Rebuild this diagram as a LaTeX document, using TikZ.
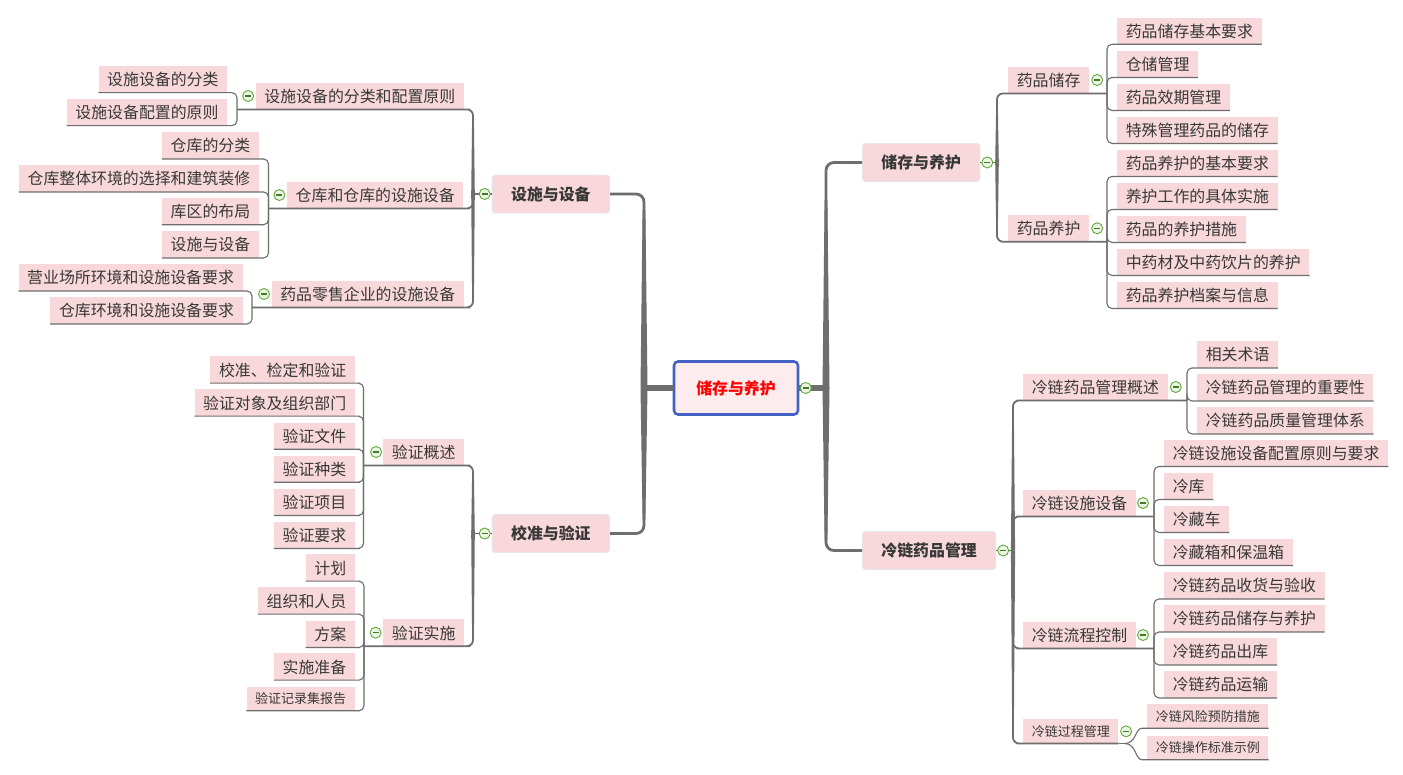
\documentclass[tikz,border=0pt]{standalone}
\usepackage{fontspec}
\setmainfont{Noto Sans CJK SC}
\usetikzlibrary{calc}
\definecolor{leafpink}{HTML}{F8D8DA}
\definecolor{cenfill}{HTML}{FDECEE}
\definecolor{cenblue}{HTML}{4462C4}
\definecolor{txt}{HTML}{383838}
\definecolor{linec}{HTML}{6E6E6E}
\definecolor{cgreen}{HTML}{62A83C}
\definecolor{cfill}{HTML}{EAF6E2}
\definecolor{lborder}{HTML}{E4E6EE}
\newcommand\taperv[5]{\fill[linec] ({#1-#3/2},#2) -- ({#1-#5/2},#4) -- ({#1+#5/2},#4) -- ({#1+#3/2},#2) -- cycle;}
\tikzset{
 base/.style={text=txt, inner ysep=0pt},
 leaf/.style={base, fill=leafpink, font=\fontsize{15.9}{16}\selectfont, inner xsep=8.6pt, minimum height=26.5pt, text height=13.8pt, text depth=1pt},
 small/.style={base, fill=leafpink, font=\fontsize{13}{13}\selectfont, inner xsep=8.6pt, minimum height=24pt, text height=11.3pt, text depth=0.8pt},
 topic/.style={base, fill=leafpink, draw=lborder, line width=0.8pt, rounded corners=3pt, font=\bfseries\fontsize{15.9}{16}\selectfont, inner xsep=19pt, minimum height=38pt, text height=13.8pt, text depth=1pt},
 central/.style={base, fill=cenfill, draw=cenblue, line width=2.6pt, rounded corners=4pt, text=red, font=\bfseries\fontsize{15.9}{16}\selectfont, minimum width=124pt, minimum height=53pt, text height=13.8pt, text depth=1pt},
 leafline/.style={draw=linec, line width=1.1pt, rounded corners=5pt},
 subline/.style={draw=linec, line width=1.8pt, rounded corners=6pt},
 mainline/.style={draw=linec, line width=2.8pt, rounded corners=8pt},
 collapse/.style={circle, draw=cgreen, fill=cfill, line width=0.9pt, minimum size=11pt, inner sep=0pt,
   path picture={\draw[cgreen!70!black, line width=1.1pt] ([xshift=-3pt]path picture bounding box.center) -- ([xshift=3pt]path picture bounding box.center);}},
}
\begin{document}
\begin{tikzpicture}[x=1pt,y=-1pt]
\useasboundingbox[fill=white] (0,0) rectangle (1403,774);
% ---------- nodes ----------
\node[central] (C) at (736,388) {储存与养护};
\node[topic, anchor=west] (R1) at (862,162.5) {储存与养护};
\node[topic, anchor=west] (R2) at (862,550.5) {冷链药品管理};
\node[topic, anchor=east] (L1) at (610,194) {设施与设备};
\node[topic, anchor=east] (L2) at (610,533.5) {校准与验证};
% right, R1
\node[leaf, anchor=west] (a1) at (1008,80) {药品储存};
\node[leaf, anchor=west] (a11) at (1117,30.8) {药品储存基本要求};
\node[leaf, anchor=west] (a12) at (1117,64) {仓储管理};
\node[leaf, anchor=west] (a13) at (1117,97) {药品效期管理};
\node[leaf, anchor=west] (a14) at (1117,130) {特殊管理药品的储存};
\node[leaf, anchor=west] (a2) at (1008,228.3) {药品养护};
\node[leaf, anchor=west] (a21) at (1117,163) {药品养护的基本要求};
\node[leaf, anchor=west] (a22) at (1117,196) {养护工作的具体实施};
\node[leaf, anchor=west] (a23) at (1117,229) {药品的养护措施};
\node[leaf, anchor=west] (a24) at (1117,262) {中药材及中药饮片的养护};
\node[leaf, anchor=west] (a25) at (1117,295) {药品养护档案与信息};
% right, R2
\node[leaf, anchor=west] (b1) at (1023,387) {冷链药品管理概述};
\node[leaf, anchor=west] (b11) at (1197,354.5) {相关术语};
\node[leaf, anchor=west] (b12) at (1197,387.5) {冷链药品管理的重要性};
\node[leaf, anchor=west] (b13) at (1197,420.5) {冷链药品质量管理体系};
\node[leaf, anchor=west] (b2) at (1023,503) {冷链设施设备};
\node[leaf, anchor=west] (b21) at (1164,453) {冷链设施设备配置原则与要求};
\node[leaf, anchor=west] (b22) at (1164,486) {冷库};
\node[leaf, anchor=west] (b23) at (1164,519) {冷藏车};
\node[leaf, anchor=west] (b24) at (1164,552) {冷藏箱和保温箱};
\node[leaf, anchor=west] (b3) at (1023,635) {冷链流程控制};
\node[leaf, anchor=west] (b31) at (1164,585.5) {冷链药品收货与验收};
\node[leaf, anchor=west] (b32) at (1164,618.5) {冷链药品储存与养护};
\node[leaf, anchor=west] (b33) at (1164,651.5) {冷链药品出库};
\node[leaf, anchor=west] (b34) at (1164,684.5) {冷链药品运输};
\node[small, anchor=west] (b4) at (1023,731.3) {冷链过程管理};
\node[small, anchor=west] (b41) at (1147,716) {冷链风险预防措施};
\node[small, anchor=west] (b42) at (1147,747.5) {冷链操作标准示例};
% left, L1
\node[leaf, anchor=east] (c1) at (464,96) {设施设备的分类和配置原则};
\node[leaf, anchor=east] (c11) at (227.3,79.2) {设施设备的分类};
\node[leaf, anchor=east] (c12) at (227.3,112.2) {设施设备配置的原则};
\node[leaf, anchor=east] (c2) at (463.5,195) {仓库和仓库的设施设备};
\node[leaf, anchor=east] (c21) at (259,145.5) {仓库的分类};
\node[leaf, anchor=east] (c22) at (259,178.5) {仓库整体环境的选择和建筑装修};
\node[leaf, anchor=east] (c23) at (259,211.3) {库区的布局};
\node[leaf, anchor=east] (c24) at (259,244.5) {设施与设备};
\node[leaf, anchor=east] (c3) at (464,294) {药品零售企业的设施设备};
\node[leaf, anchor=east] (c31) at (242.7,277.5) {营业场所环境和设施设备要求};
\node[leaf, anchor=east] (c32) at (242.7,310.5) {仓库环境和设施设备要求};
% left, L2
\node[leaf, anchor=east] (d1) at (464.3,452) {验证概述};
\node[leaf, anchor=east] (d11) at (355,369.7) {校准、检定和验证};
\node[leaf, anchor=east] (d12) at (355,402.7) {验证对象及组织部门};
\node[leaf, anchor=east] (d13) at (355,435.8) {验证文件};
\node[leaf, anchor=east] (d14) at (355,468.8) {验证种类};
\node[leaf, anchor=east] (d15) at (355,502) {验证项目};
\node[leaf, anchor=east] (d16) at (355,535) {验证要求};
\node[leaf, anchor=east] (d2) at (464.3,632.7) {验证实施};
\node[leaf, anchor=east] (d21) at (355,567.7) {计划};
\node[leaf, anchor=east] (d22) at (355,600.7) {组织和人员};
\node[leaf, anchor=east] (d23) at (355,634) {方案};
\node[leaf, anchor=east] (d24) at (355,666.7) {实施准备};
\node[small, anchor=east] (d25) at (355,698.5) {验证记录集报告};
% ---------- trunk coordinates ----------
\coordinate (jR) at (826,388);
\coordinate (jL) at (644,388);
\coordinate (tR1) at (997,162.5);
\coordinate (tR2) at (1013,550.5);
\coordinate (tL1) at (473,194);
\coordinate (tL2) at (473,533.5);
\coordinate (ta) at (1107,0);
\coordinate (tb1) at (1187,0);
\coordinate (tb2) at (1154,0);
\coordinate (tb3) at (1154,0);
\coordinate (tc1) at (237,0);
\coordinate (tc2) at (268.5,0);
\coordinate (tc3) at (252,0);
\coordinate (td1) at (363.5,0);
\coordinate (td2) at (364,0);
% ---------- main connectors ----------
\draw[draw=linec, line width=6pt] (C.east) -- (jR);
\draw[draw=linec, line width=6pt] (C.west) -- (jL);
\draw[mainline] (jR) |- (R1.west);
\draw[mainline] (jR) |- (R2.west);
\draw[mainline] (jL) |- (L1.east);
\draw[mainline] (jL) |- (L2.east);
\taperv{826}{388}{7}{200}{2.8}
\taperv{826}{388}{7}{540}{2.8}
\taperv{644}{388}{7}{210}{2.8}
\taperv{644}{388}{7}{520}{2.8}
% ---------- level 1 -> level 2 ----------
\draw[subline, rounded corners=0] (R1.east) -- (tR1);
\draw[subline] (tR1) |- (a1.south west) -- (a1.south -| ta);
\draw[subline] (tR1) |- (a2.south west) -- (a2.south -| ta);
\taperv{997}{162.5}{3.6}{110}{1.8}
\taperv{997}{162.5}{3.6}{225}{1.8}
\draw[subline, rounded corners=0] (R2.east) -- (tR2);
\draw[subline] (tR2) |- (b1.south west) -- (b1.south -| tb1);
\draw[subline] (tR2) |- (b2.south west) -- (b2.south -| tb2);
\draw[subline] (tR2) |- (b3.south west) -- (b3.south -| tb3);
\draw[subline] (tR2) |- (b4.south west) -- (b4.south east);
\taperv{1013}{550.5}{4.2}{420}{1.8}
\taperv{1013}{550.5}{4.2}{720}{1.8}
\draw[subline, rounded corners=0] (L1.west) -- (tL1);
\draw[subline] (tL1) |- (c1.south east) -- (c1.south -| tc1);
\draw[subline] (tL1) |- (c2.south east) -- (c2.south -| tc2);
\draw[subline] (tL1) |- (c3.south east) -- (c3.south -| tc3);
\taperv{473}{194}{3.6}{120}{1.8}
\taperv{473}{194}{3.6}{295}{1.8}
\draw[subline, rounded corners=0] (L2.west) -- (tL2);
\draw[subline] (tL2) |- (d1.south east) -- (d1.south -| td1);
\draw[subline] (tL2) |- (d2.south east) -- (d2.south -| td2);
\taperv{473}{533.5}{3.6}{475}{1.8}
\taperv{473}{533.5}{3.6}{635}{1.8}
% ---------- level 2 -> leaves ----------
\foreach \n in {a11,a12,a13,a14} \draw[leafline] (a1.south -| ta) |- (\n.south west) -- (\n.south east);
\foreach \n in {a21,a22,a23,a24,a25} \draw[leafline] (a2.south -| ta) |- (\n.south west) -- (\n.south east);
\foreach \n in {b11,b12,b13} \draw[leafline] (b1.south -| tb1) |- (\n.south west) -- (\n.south east);
\foreach \n in {b21,b22,b23,b24} \draw[leafline] (b2.south -| tb2) |- (\n.south west) -- (\n.south east);
\foreach \n in {b31,b32,b33,b34} \draw[leafline] (b3.south -| tb3) |- (\n.south west) -- (\n.south east);
\coordinate (b4x) at ($(b4.south east)+(6,0)$);
\draw[leafline] (b4.south east) -- (b4x);
\draw[leafline] (b4x) .. controls +(12,0) and +(-12,0) .. (b41.south west) -- (b41.south east);
\draw[leafline] (b4x) .. controls +(12,0) and +(-12,0) .. (b42.south west) -- (b42.south east);
\foreach \n in {c11,c12} \draw[leafline] (c1.south -| tc1) |- (\n.south east) -- (\n.south west);
\foreach \n in {c21,c22,c23,c24} \draw[leafline] (c2.south -| tc2) |- (\n.south east) -- (\n.south west);
\foreach \n in {c31,c32} \draw[leafline] (c3.south -| tc3) |- (\n.south east) -- (\n.south west);
\foreach \n in {d11,d12,d13,d14,d15,d16} \draw[leafline] (d1.south -| td1) |- (\n.south east) -- (\n.south west);
\foreach \n in {d21,d22,d23,d24,d25} \draw[leafline] (d2.south -| td2) |- (\n.south east) -- (\n.south west);
% ---------- collapse buttons ----------
\node[collapse] (k0) at ([xshift=6.5pt]C.east) {};
\node[collapse] (kR1) at ([xshift=7pt]R1.east) {};
\node[collapse] (kR2) at ([xshift=7pt]R2.east) {};
\node[collapse] (kL1) at ([xshift=-7pt]L1.west) {};
\node[collapse] (kL2) at ([xshift=-7pt]L2.west) {};
\node[collapse] (ka1) at ([xshift=8pt]a1.east) {};
\node[collapse] (ka2) at ([xshift=8pt]a2.east) {};
\node[collapse] (kb1) at ([xshift=8pt]b1.east) {};
\node[collapse] (kb2) at ([xshift=7pt]b2.east) {};
\node[collapse] (kb3) at ([xshift=7pt]b3.east) {};
\node[collapse] (kb4) at ([xshift=7.5pt]b4.east) {};
\node[collapse] (kc1) at ([xshift=-7.5pt]c1.west) {};
\node[collapse] (kc2) at ([xshift=-7.5pt]c2.west) {};
\node[collapse] (kc3) at ([xshift=-7.5pt]c3.west) {};
\node[collapse] (kd1) at ([xshift=-7pt]d1.west) {};
\node[collapse] (kd2) at ([xshift=-7.5pt]d2.west) {};
\end{tikzpicture}
\end{document}
